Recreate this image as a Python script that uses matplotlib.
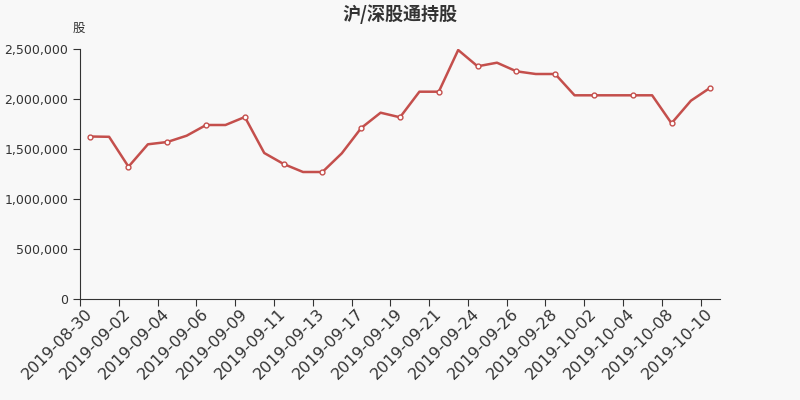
import matplotlib.pyplot as plt
import matplotlib.ticker as mticker

plt.rcParams['font.family'] = ['DejaVu Sans', 'Noto Sans CJK SC']

dates = ['2019-08-30', '2019-08-31', '2019-09-02', '2019-09-03', '2019-09-04',
         '2019-09-05', '2019-09-06', '2019-09-07', '2019-09-09', '2019-09-10',
         '2019-09-11', '2019-09-12', '2019-09-13', '2019-09-16', '2019-09-17',
         '2019-09-18', '2019-09-19', '2019-09-20', '2019-09-21', '2019-09-23',
         '2019-09-24', '2019-09-25', '2019-09-26', '2019-09-27', '2019-09-28',
         '2019-09-30', '2019-10-02', '2019-10-03', '2019-10-04', '2019-10-07',
         '2019-10-08', '2019-10-09', '2019-10-10']
holdings = [1625000, 1622000, 1323000, 1547000, 1570000,
            1633000, 1740000, 1740000, 1820000, 1460000,
            1350000, 1270000, 1270000, 1457000, 1710000,
            1863000, 1817000, 2073000, 2073000, 2490000,
            2327000, 2363000, 2277000, 2250000, 2250000,
            2037000, 2037000, 2037000, 2037000, 2037000,
            1757000, 1983000, 2113000]

bg = '#f8f8f8'
fig = plt.figure(figsize=(8, 4), dpi=100, facecolor=bg)
ax = fig.add_axes([0.1, 0.2525, 0.8, 0.625], facecolor=bg)

x = list(range(len(dates)))
ax.plot(x, holdings, color='#c44f4c', linewidth=1.8, marker='o', markersize=3.5,
        markerfacecolor='white', markeredgecolor='#c44f4c', markeredgewidth=1,
        markevery=2, zorder=3)

ax.set_xlim(-0.5, len(dates) - 0.5)
ax.set_ylim(0, 2500000)
ax.yaxis.set_major_locator(mticker.MultipleLocator(500000))
ax.yaxis.set_major_formatter(mticker.FuncFormatter(lambda v, p: f'{int(v):,}'))

# ticks at band boundaries, labels at band centers
ax.set_xticks([i - 0.5 for i in x[::2]])
ax.set_xticklabels([])
ax.set_xticks(x[::2], minor=True)
ax.set_xticklabels(dates[::2], minor=True, rotation=45, ha='right', va='center',
                   rotation_mode='anchor', fontsize=11.5, color='#333333')
ax.tick_params(axis='x', which='minor', length=0, pad=9)
ax.tick_params(axis='x', which='major', length=5, color='#333333')
ax.tick_params(axis='y', length=5, color='#333333', labelsize=9, labelcolor='#333333')

for s in ['top', 'right']:
    ax.spines[s].set_visible(False)
for s in ['left', 'bottom']:
    ax.spines[s].set_color('#333333')

fig.text(0.5, 0.965, '沪/深股通持股', ha='center', va='center', fontsize=13,
         fontweight='bold', color='#333333', family=['Noto Sans CJK SC', 'DejaVu Sans'])
fig.text(0.098, 0.928, '股', ha='center', va='center', fontsize=9,
         color='#333333', family=['Noto Sans CJK SC', 'DejaVu Sans'])

fig.savefig('out.png', dpi=100, facecolor=bg)
